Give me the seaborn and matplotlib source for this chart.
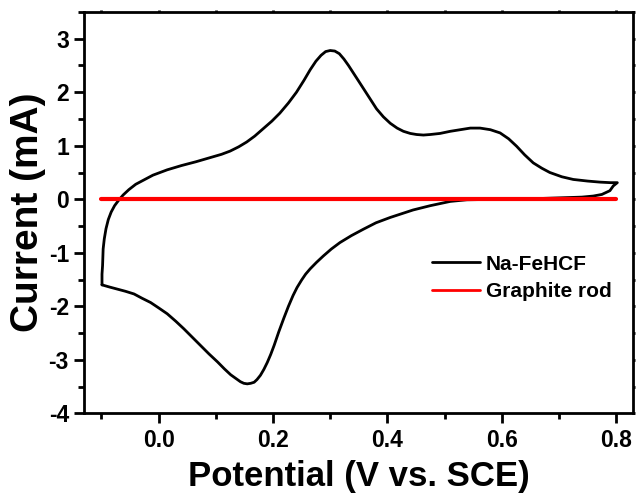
import matplotlib
matplotlib.use("Agg")
import matplotlib.pyplot as plt
import seaborn as sns
import pandas as pd
from matplotlib.ticker import MultipleLocator

# Cyclic voltammogram of Na-FeHCF: anodic sweep (-0.1 -> 0.8 V) then cathodic sweep back
potential_anodic = [-0.099, -0.099, -0.098, -0.097, -0.095, -0.092, -0.088, -0.083, -0.077,
                    -0.070, -0.062, -0.052, -0.040, -0.026, -0.010, 0.015, 0.040, 0.065,
                    0.091, 0.110, 0.125, 0.140, 0.154, 0.168, 0.183, 0.198, 0.212,
                    0.227, 0.241, 0.254, 0.265, 0.275, 0.284, 0.292, 0.300, 0.308,
                    0.316, 0.324, 0.332, 0.340, 0.349, 0.358, 0.370, 0.381, 0.393,
                    0.405, 0.417, 0.428, 0.440, 0.451, 0.463, 0.475, 0.492, 0.510,
                    0.527, 0.545, 0.562, 0.580, 0.597, 0.612, 0.626, 0.640, 0.655,
                    0.670, 0.684, 0.705, 0.725, 0.750, 0.772, 0.790, 0.802]
current_anodic = [-1.60, -1.40, -1.24, -0.93, -0.74, -0.55, -0.38, -0.24, -0.12,
                  -0.02, 0.08, 0.18, 0.28, 0.36, 0.45, 0.55, 0.63, 0.70,
                  0.78, 0.84, 0.90, 0.98, 1.07, 1.18, 1.32, 1.46, 1.61,
                  1.80, 2.00, 2.22, 2.42, 2.58, 2.69, 2.76, 2.78, 2.77,
                  2.72, 2.62, 2.50, 2.37, 2.22, 2.07, 1.87, 1.69, 1.54,
                  1.42, 1.33, 1.27, 1.23, 1.21, 1.20, 1.21, 1.23, 1.27,
                  1.30, 1.33, 1.33, 1.30, 1.24, 1.13, 0.99, 0.83, 0.68,
                  0.58, 0.50, 0.42, 0.37, 0.34, 0.32, 0.31, 0.31]

potential_cathodic = [0.795, 0.789, 0.775, 0.760, 0.740, 0.713, 0.685, 0.655, 0.625,
                      0.597, 0.568, 0.539, 0.510, 0.475, 0.445, 0.405, 0.380, 0.358,
                      0.337, 0.317, 0.302, 0.288, 0.276, 0.265, 0.257, 0.250, 0.242,
                      0.235, 0.227, 0.219, 0.210, 0.202, 0.196, 0.190, 0.184, 0.178,
                      0.172, 0.167, 0.161, 0.155, 0.149, 0.143, 0.135, 0.126, 0.115,
                      0.103, 0.088, 0.073, 0.058, 0.044, 0.030, 0.015, 0.000, -0.014,
                      -0.029, -0.043, -0.058, -0.072, -0.086, -0.099]
current_cathodic = [0.25, 0.16, 0.09, 0.06, 0.04, 0.03, 0.02, 0.01, 0.00,
                    0.00, -0.005, -0.01, -0.04, -0.12, -0.20, -0.34, -0.44, -0.56,
                    -0.68, -0.81, -0.93, -1.06, -1.18, -1.30, -1.40, -1.51, -1.65,
                    -1.80, -2.00, -2.22, -2.48, -2.73, -2.90, -3.05, -3.18, -3.29,
                    -3.37, -3.42, -3.44, -3.45, -3.44, -3.41, -3.35, -3.28, -3.17,
                    -3.04, -2.89, -2.73, -2.57, -2.42, -2.28, -2.14, -2.03, -1.93,
                    -1.85, -1.77, -1.72, -1.68, -1.64, -1.60]

# Bare graphite rod: flat baseline over the same window
potential_graphite = [-0.100, 0.800]
current_graphite = [0.0, 0.0]

cv = pd.DataFrame({
    "Potential": potential_anodic + potential_cathodic,
    "Current": current_anodic + current_cathodic,
})
rod = pd.DataFrame({"Potential": potential_graphite, "Current": current_graphite})

sns.set_style("ticks")
plt.rcParams["font.family"] = ["Liberation Sans", "DejaVu Sans"]
plt.rcParams["font.weight"] = "bold"
plt.rcParams["axes.unicode_minus"] = False
plt.rcParams["text.color"] = "black"
plt.rcParams["axes.labelcolor"] = "black"

fig = plt.figure(figsize=(6.36, 4.93), dpi=100)
ax = fig.add_axes([0.1325, 0.1617, 0.8633, 0.8140])

sns.lineplot(data=cv, x="Potential", y="Current", sort=False, estimator=None,
             color="black", linewidth=2.0, label="Na-FeHCF", ax=ax,
             solid_joinstyle="round", solid_capstyle="round")
sns.lineplot(data=rod, x="Potential", y="Current", sort=False, estimator=None,
             color="#ff0000", linewidth=3.0, label="Graphite rod", ax=ax)

ax.set_xlim(-0.130, 0.830)
ax.set_ylim(-4, 3.5)
ax.xaxis.set_minor_locator(MultipleLocator(0.1))
ax.yaxis.set_major_locator(MultipleLocator(1))
ax.yaxis.set_minor_locator(MultipleLocator(0.5))
ax.set_xticks([0.0, 0.2, 0.4, 0.6, 0.8])
ax.set_xticklabels(["0.0", "0.2", "0.4", "0.6", "0.8"])

for side in ax.spines.values():
    side.set_linewidth(2.0)
    side.set_color("black")

ax.tick_params(which="major", direction="out", length=7, width=2, labelsize=16.5,
               colors="black", pad=4)
ax.tick_params(which="minor", direction="out", length=4.5, width=2, colors="black")
ax.tick_params(axis="x", which="both", top=True, labeltop=False)
ax.tick_params(axis="y", which="both", right=True, labelright=False)
# keep top/right ticks barely visible
for t in ax.xaxis.get_major_ticks() + ax.xaxis.get_minor_ticks():
    t.tick2line.set_markersize(1.5)
for t in ax.yaxis.get_major_ticks() + ax.yaxis.get_minor_ticks():
    t.tick2line.set_markersize(1.5)

for lbl in ax.get_xticklabels() + ax.get_yticklabels():
    lbl.set_fontweight("bold")

ax.set_xlabel("Potential (V vs. SCE)", fontsize=25, fontweight="bold", labelpad=6)
ax.set_ylabel("Current (mA)", fontsize=28, fontweight="bold", labelpad=2)

leg = ax.legend(loc="center left", bbox_to_anchor=(0.633, 0.337), frameon=False,
                fontsize=15, handlelength=2.3, handletextpad=0.3,
                labelspacing=0.42, borderpad=0, borderaxespad=0)
for txt in leg.get_texts():
    txt.set_fontweight("bold")
    txt.set_color("black")
for hl in leg.get_lines():
    hl.set_linewidth(2.0)

fig.savefig("out.png", dpi=100)
